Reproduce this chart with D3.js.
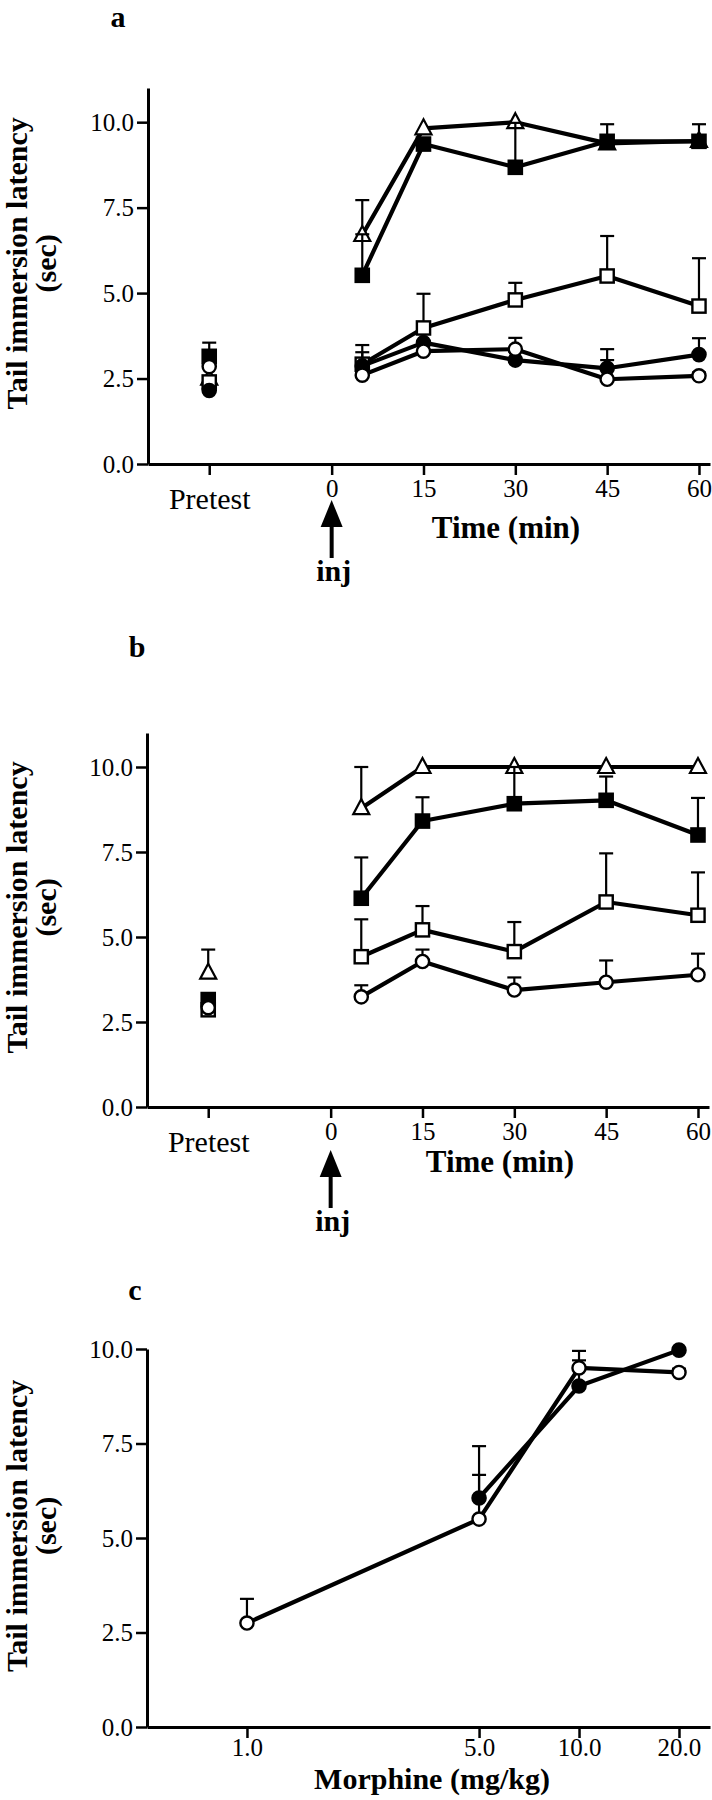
<!DOCTYPE html>
<html><head><meta charset="utf-8">
<script src="https://cdn.jsdelivr.net/npm/d3@7/dist/d3.min.js"></script>
<style>
body{margin:0;background:#fff}
svg{display:block}
text{font-family:"Liberation Serif","Times New Roman",serif;fill:#000}
</style>
</head><body>
<svg id="chart" width="712" height="1800"></svg>
<script>
// ---------------- DATA ----------------
// time-course panels: index 0 = Pretest, then 5, 15, 30, 45, 60 min
const timePoints = [-20, 5, 15, 30, 45, 60];
const timeTickValues = [-20, 0, 15, 30, 45, 60];
const timeTickLabels = ["Pretest", "0", "15", "30", "45", "60"];
const yTickValues = [0, 2.5, 5, 7.5, 10];

// Panel a
const a_triOpen_mean  = [2.50, 6.70, 9.82, 10.00, 9.38, 9.45];
const a_triOpen_sem   = [0.00, 1.02, 0.00, 0.00, 0.00, 0.00];
const a_sqFilled_mean = [3.15, 5.52, 9.36, 8.68, 9.44, 9.44];
const a_sqFilled_sem  = [0.40, 1.20, 0.00, 1.30, 0.50, 0.50];
const a_sqOpen_mean   = [2.40, 2.92, 3.98, 4.80, 5.50, 4.62];
const a_sqOpen_sem    = [0.00, 0.56, 1.00, 0.50, 1.17, 1.40];
const a_cirFilled_mean= [2.15, 2.87, 3.55, 3.04, 2.80, 3.20];
const a_cirFilled_sem = [0.00, 0.40, 0.00, 0.25, 0.56, 0.48];
const a_cirOpen_mean  = [2.85, 2.60, 3.30, 3.36, 2.48, 2.58];
const a_cirOpen_sem   = [0.45, 0.20, 0.20, 0.33, 0.56, 0.10];

// Panel b
const b_triOpen_mean  = [3.95, 8.79, 10.00, 10.00, 10.00, 10.00];
const b_triOpen_sem   = [0.68, 1.21, 0.00, 0.00, 0.00, 0.00];
const b_sqFilled_mean = [3.16, 6.14, 8.41, 8.92, 9.02, 8.00];
const b_sqFilled_sem  = [0.15, 1.20, 0.70, 1.08, 0.70, 1.09];
const b_sqOpen_mean   = [2.86, 4.42, 5.21, 4.57, 6.03, 5.64];
const b_sqOpen_sem    = [0.00, 1.10, 0.70, 0.87, 1.43, 1.26];
const b_cirOpen_mean  = [2.92, 3.24, 4.28, 3.44, 3.67, 3.89];
const b_cirOpen_sem   = [0.00, 0.34, 0.35, 0.37, 0.64, 0.62];

// Panel c (dose-response, log x)
const doses = [1, 5, 10, 20];
const doseTickLabels = ["1.0", "5.0", "10.0", "20.0"];
const c_cirOpen_mean   = [2.75, 5.50, 9.50, 9.38];
const c_cirOpen_sem    = [0.64, 1.17, 0.20, 0.10];
const c_cirFilled_dose = [5, 10, 20];
const c_cirFilled_mean = [6.06, 9.02, 9.97];
const c_cirFilled_sem  = [1.37, 0.93, 0.00];

// ---------------- DRAWING ----------------
const svg = d3.select("#chart");
const FONT = '"Liberation Serif","Times New Roman",serif';

function drawMarker(g, shape, filled, cx, cy) {
  const fill = filled ? "#000" : "#fff";
  if (shape === "circle") {
    g.append("circle").attr("cx", cx).attr("cy", cy).attr("r", 6.6)
      .attr("fill", fill).attr("stroke", "#000").attr("stroke-width", 2.4);
  } else if (shape === "square") {
    g.append("rect").attr("x", cx - 6.6).attr("y", cy - 6.6).attr("width", 13.2).attr("height", 13.2)
      .attr("fill", fill).attr("stroke", "#000").attr("stroke-width", 2.4);
  } else {
    g.append("path").attr("d", `M${cx},${cy - 9}L${cx + 8},${cy + 6}L${cx - 8},${cy + 6}Z`)
      .attr("fill", fill).attr("stroke", "#000").attr("stroke-width", 2.2).attr("stroke-linejoin", "miter");
  }
}

function drawSeries(g, x, y, xs, means, sems, shape, filled, connectFrom) {
  const pts = xs.map((t, i) => ({ t, v: means[i], s: sems[i] }));
  const linePts = pts.slice(connectFrom);
  g.append("path").datum(linePts)
    .attr("d", d3.line().x(d => x(d.t)).y(d => y(d.v)))
    .attr("fill", "none").attr("stroke", "#000").attr("stroke-width", 4.2).attr("stroke-linejoin", "round");
  pts.forEach(d => {
    if (d.s > 0) {
      const x0 = x(d.t), y0 = y(d.v), y1 = y(d.v + d.s);
      g.append("line").attr("x1", x0).attr("x2", x0).attr("y1", y0).attr("y2", y1)
        .attr("stroke", "#000").attr("stroke-width", 2.2);
      g.append("line").attr("x1", x0 - 7).attr("x2", x0 + 7).attr("y1", y1).attr("y2", y1)
        .attr("stroke", "#000").attr("stroke-width", 2.2);
    }
  });
  pts.forEach(d => drawMarker(g, shape, filled, x(d.t), y(d.v)));
}

function styleAxis(ax, fs) {
  ax.attr("font-family", FONT).attr("font-size", fs);
  ax.select(".domain").attr("stroke", "#000").attr("stroke-width", 3);
  ax.selectAll(".tick line").attr("stroke", "#000").attr("stroke-width", 2.5);
  ax.selectAll(".tick text").attr("fill", "#000");
}

function yAxis(g, y, x0) {
  const ax = g.append("g").attr("transform", `translate(${x0},0)`)
    .call(d3.axisLeft(y).tickValues(yTickValues).tickFormat(d3.format(".1f"))
      .tickSize(11).tickSizeOuter(0).tickPadding(3));
  styleAxis(ax, 25);
}

function yTitle(g, cy, cx1, cx2) {
  g.append("text").attr("transform", `translate(${cx1},${cy}) rotate(-90)`)
    .attr("text-anchor", "middle").attr("font-weight", "bold").attr("font-size", 30)
    .text("Tail immersion latency");
  g.append("text").attr("transform", `translate(${cx2},${cy}) rotate(-90)`)
    .attr("text-anchor", "middle").attr("font-weight", "bold").attr("font-size", 30)
    .text("(sec)");
}

function label(g, txt, x, y, size, bold) {
  g.append("text").attr("x", x).attr("y", y).attr("text-anchor", "middle")
    .attr("font-size", size).attr("font-weight", bold ? "bold" : "normal").text(txt);
}

function timePanel(cfg) {
  const g = svg.append("g");
  const x = d3.scaleLinear().domain([-30, 61.8]).range([cfg.left, cfg.right]);
  const y = d3.scaleLinear().domain([0, 11]).range([cfg.bottom, cfg.top]);

  yAxis(g, y, cfg.left);
  const xa = g.append("g").attr("transform", `translate(0,${cfg.bottom})`)
    .call(d3.axisBottom(x).tickValues(timeTickValues)
      .tickFormat((d, i) => timeTickLabels[i]).tickSize(11).tickSizeOuter(0).tickPadding(4));
  styleAxis(xa, 25);
  xa.selectAll(".tick text").filter((d, i) => i === 0)
    .attr("font-size", 30).attr("dy", 0).attr("y", 45);

  cfg.series.forEach(s => drawSeries(g, x, y, timePoints, s.m, s.s, s.shape, s.filled, 1));

  // injection arrow
  const ax = x(0);
  g.append("path").attr("d", `M${ax},${cfg.arrowTop}L${ax + 11},${cfg.arrowTop + 27}L${ax - 11},${cfg.arrowTop + 27}Z`)
    .attr("fill", "#000");
  g.append("line").attr("x1", ax).attr("x2", ax).attr("y1", cfg.arrowTop + 26).attr("y2", cfg.arrowTop + 58)
    .attr("stroke", "#000").attr("stroke-width", 4);
  label(g, "inj", ax + 2, cfg.injBase, 30, true);

  label(g, "Time (min)", cfg.timeX, cfg.timeBase, 31, true);
  label(g, cfg.name, cfg.nameX, cfg.nameBase, 30, true);
  yTitle(g, y(5.87), 27, 56);
}

timePanel({
  name: "a", nameX: 118, nameBase: 27,
  left: 148, right: 710, top: 88, bottom: 464,
  arrowTop: 500, injBase: 581, timeX: 506, timeBase: 538,
  series: [
    { m: a_triOpen_mean,   s: a_triOpen_sem,   shape: "triangle", filled: false },
    { m: a_sqFilled_mean,  s: a_sqFilled_sem,  shape: "square",   filled: true },
    { m: a_sqOpen_mean,    s: a_sqOpen_sem,    shape: "square",   filled: false },
    { m: a_cirFilled_mean, s: a_cirFilled_sem, shape: "circle",   filled: true },
    { m: a_cirOpen_mean,   s: a_cirOpen_sem,   shape: "circle",   filled: false }
  ]
});

timePanel({
  name: "b", nameX: 137, nameBase: 657,
  left: 147, right: 709, top: 733, bottom: 1107,
  arrowTop: 1150, injBase: 1231, timeX: 500, timeBase: 1172,
  series: [
    { m: b_triOpen_mean,  s: b_triOpen_sem,  shape: "triangle", filled: false },
    { m: b_sqFilled_mean, s: b_sqFilled_sem, shape: "square",   filled: true },
    { m: b_sqOpen_mean,   s: b_sqOpen_sem,   shape: "square",   filled: false },
    { m: b_cirOpen_mean,  s: b_cirOpen_sem,  shape: "circle",   filled: false }
  ]
});

// Panel c
(function () {
  const g = svg.append("g");
  const x = d3.scaleLog().domain([0.5, 24.8]).range([147, 710]);
  const y = d3.scaleLinear().domain([0, 10]).range([1727, 1349]);
  yAxis(g, y, 147);
  const xa = g.append("g").attr("transform", "translate(0,1727)")
    .call(d3.axisBottom(x).tickValues(doses).tickFormat((d, i) => doseTickLabels[i])
      .tickSize(11).tickSizeOuter(0).tickPadding(0));
  styleAxis(xa, 25);
  drawSeries(g, x, y, c_cirFilled_dose, c_cirFilled_mean, c_cirFilled_sem, "circle", true, 0);
  drawSeries(g, x, y, doses, c_cirOpen_mean, c_cirOpen_sem, "circle", false, 0);
  label(g, "Morphine (mg/kg)", 432, 1789, 30, true);
  label(g, "c", 135, 1300, 30, true);
  yTitle(g, y(5.32), 27, 56);
})();
</script>
</body></html>
